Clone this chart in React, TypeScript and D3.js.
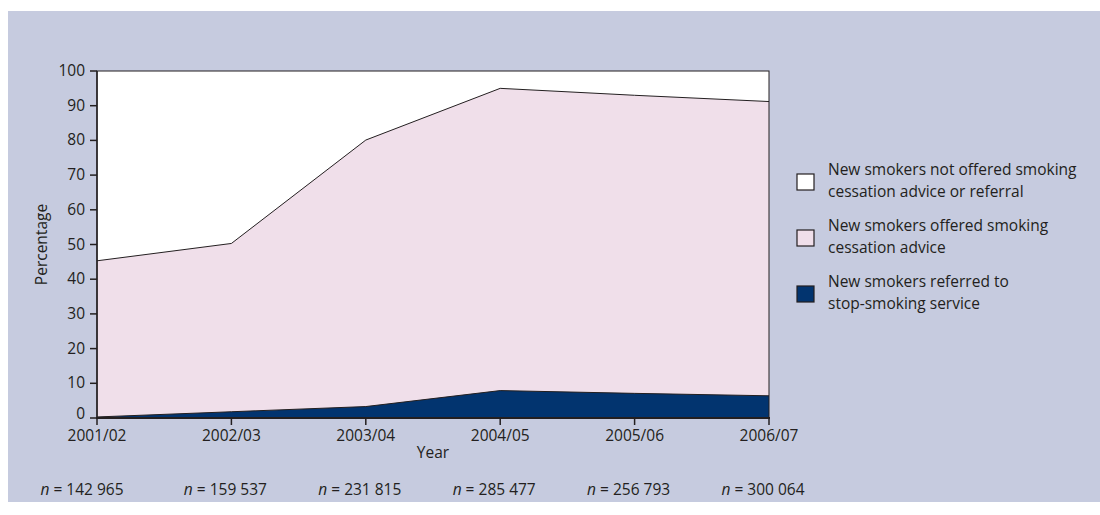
import React from "react";
import * as d3 from "d3";

const years = ["2001/02", "2002/03", "2003/04", "2004/05", "2005/06", "2006/07"];
const referred = [0.3, 1.8, 3.3, 7.9, 7.1, 6.4];
const offeredOrReferred = [45.3, 50.3, 80.1, 95.0, 93.0, 91.2];
const nLabels = ["142 965", "159 537", "231 815", "285 477", "256 793", "300 064"];
const yTicks = [0, 10, 20, 30, 40, 50, 60, 70, 80, 90, 100];
const legendItems = [
  { lines: ["New smokers not offered smoking", "cessation advice or referral"], color: "#ffffff" },
  { lines: ["New smokers offered smoking", "cessation advice"], color: "#f0dfea" },
  { lines: ["New smokers referred to", "stop-smoking service"], color: "#02346f" },
];

const FONT = "'Open Sans', 'Noto Sans', sans-serif";

export default function App() {
  const W = 1100, H = 515;
  const left = 97, right = 769, top = 71, bottom = 418;
  const x = d3.scalePoint<string>().domain(years).range([left, right]);
  const y = d3.scaleLinear().domain([0, 100]).range([bottom, top]);

  const idx = years.map((_, i) => i);
  const areaPink = d3.area<number>().x((i) => x(years[i])!).y0(bottom).y1((i) => y(offeredOrReferred[i]));
  const areaNavy = d3.area<number>().x((i) => x(years[i])!).y0(bottom).y1((i) => y(referred[i]));
  const lineTop = d3.line<number>().x((i) => x(years[i])!).y((i) => y(offeredOrReferred[i]));
  const lineNavy = d3.line<number>().x((i) => x(years[i])!).y((i) => y(referred[i]));

  const fs = 15.5;
  return (
    <svg width={W} height={H} style={{ position: "absolute", left: 0, top: 0 }} fontFamily={FONT}>
      <rect x={8} y={11} width={W - 8} height={491} fill="#c6cbdf" />
      <rect x={left} y={top} width={right - left} height={bottom - top} fill="#ffffff" />
      <path d={areaPink(idx)!} fill="#f0dfea" />
      <path d={lineTop(idx)!} fill="none" stroke="#231f20" strokeWidth={1} />
      <path d={areaNavy(idx)!} fill="#02346f" />
      <path d={lineNavy(idx)!} fill="none" stroke="#231f20" strokeWidth={1} />
      <rect x={left} y={top} width={right - left} height={bottom - top} fill="none" stroke="#231f20" strokeWidth={1} />
      <line x1={left} x2={left} y1={top} y2={bottom + 1} stroke="#231f20" strokeWidth={1.5} />
      <line x1={left - 1} x2={right + 1} y1={bottom} y2={bottom} stroke="#231f20" strokeWidth={2} />
      {yTicks.map((t) => (
        <g key={t}>
          <line x1={left - 7} x2={left} y1={y(t)} y2={y(t)} stroke="#231f20" strokeWidth={1.5} />
          <text x={left - 12} y={y(t) + (t === 0 ? 1 : 5)} textAnchor="end" fontSize={fs} fill="#231f20">
            {t}
          </text>
        </g>
      ))}
      {years.map((yr) => (
        <g key={yr}>
          <line x1={x(yr)} x2={x(yr)} y1={bottom} y2={bottom + 7} stroke="#231f20" strokeWidth={1.5} />
          <text x={x(yr)} y={bottom + 23} textAnchor="middle" fontSize={fs} fill="#231f20">
            {yr}
          </text>
        </g>
      ))}
      <text x={433} y={458} textAnchor="middle" fontSize={fs} fill="#231f20">Year</text>
      <text transform={`translate(47,${(top + bottom) / 2}) rotate(-90)`} textAnchor="middle" fontSize={fs} fill="#231f20">
        Percentage
      </text>
      {years.map((yr, i) => (
        <text key={yr} x={x(yr)! - (i === 0 ? 15 : 6)} y={495} textAnchor="middle" fontSize={fs} fill="#231f20">
          <tspan fontStyle="italic">n</tspan>
          <tspan> = {nLabels[i]}</tspan>
        </text>
      ))}
      {legendItems.map((item, i) => {
        const cy = 182 + i * 56;
        return (
          <g key={i}>
            <rect x={797} y={cy - 8} width={17} height={16} fill={item.color} stroke="#231f20" strokeWidth={1.2} />
            {item.lines.map((ln, j) => (
              <text key={j} x={828} y={cy - 12 + j * 22 + 5} fontSize={fs} fill="#231f20">
                {ln}
              </text>
            ))}
          </g>
        );
      })}
    </svg>
  );
}
